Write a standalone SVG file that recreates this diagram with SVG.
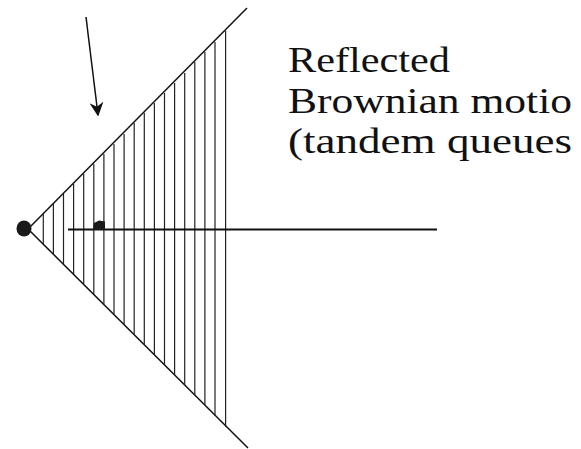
<svg xmlns="http://www.w3.org/2000/svg" width="581" height="449" viewBox="0 0 581 449">
<style>
.edge{stroke:#111;stroke-width:1.5;fill:none}
.hatch{stroke:#222;stroke-width:1.2;fill:none}
.lbl{font-family:"Liberation Serif","DejaVu Serif",serif;font-size:35px;fill:#111}
</style>
<defs>
<marker id="ah" viewBox="0 0 10 10" refX="9" refY="5" markerWidth="14" markerHeight="14" markerUnits="userSpaceOnUse" orient="auto">
<path d="M0,0 L10,5 L0,10 L3,5 Z" fill="#111"/>
</marker>
</defs>
<rect width="581" height="449" fill="#fff"/>
<g id="cone">
<line class="edge" x1="30" y1="227" x2="247" y2="8"/>
<line class="edge" x1="30" y1="231" x2="248" y2="448"/>
<g class="hatch">
<line x1="43.3" y1="214" x2="43.3" y2="244"/>
<line x1="53.4" y1="204" x2="53.4" y2="254"/>
<line x1="63.5" y1="194" x2="63.5" y2="264"/>
<line x1="73.6" y1="184" x2="73.6" y2="274"/>
<line x1="83.7" y1="174" x2="83.7" y2="284"/>
<line x1="93.8" y1="164" x2="93.8" y2="294"/>
<line x1="103.9" y1="154" x2="103.9" y2="304"/>
<line x1="114.0" y1="144" x2="114.0" y2="314"/>
<line x1="124.1" y1="134" x2="124.1" y2="324"/>
<line x1="134.2" y1="123" x2="134.2" y2="334"/>
<line x1="144.3" y1="113" x2="144.3" y2="345"/>
<line x1="154.4" y1="103" x2="154.4" y2="355"/>
<line x1="164.5" y1="93" x2="164.5" y2="365"/>
<line x1="174.6" y1="83" x2="174.6" y2="375"/>
<line x1="184.7" y1="73" x2="184.7" y2="385"/>
<line x1="194.8" y1="62" x2="194.8" y2="395"/>
<line x1="204.9" y1="52" x2="204.9" y2="405"/>
<line x1="215.0" y1="42" x2="215.0" y2="416"/>
<line x1="225.6" y1="31" x2="225.6" y2="427"/>
</g>
</g>
<g id="apex">
<ellipse cx="24" cy="228.5" rx="7.5" ry="8" fill="#1a1a1a"/>
</g>
<g id="axis">
<line x1="68" y1="229.5" x2="437" y2="229.5" stroke="#111" stroke-width="1.8"/>
<path d="M93,230 L94,223 L99,220.5 L105,221.5 L105,230 Z" fill="#1a1a1a"/>
</g>
<g id="connectors">
<line class="edge" x1="86" y1="17" x2="98" y2="115" marker-end="url(#ah)"/>
</g>
<g id="label">
<text class="lbl" x="288" y="72" textLength="162" lengthAdjust="spacingAndGlyphs">Reflected</text>
<text class="lbl" x="288" y="113" textLength="284" lengthAdjust="spacingAndGlyphs">Brownian motio</text>
<text class="lbl" x="288" y="153" textLength="284" lengthAdjust="spacingAndGlyphs">(tandem queues</text>
</g>
</svg>
